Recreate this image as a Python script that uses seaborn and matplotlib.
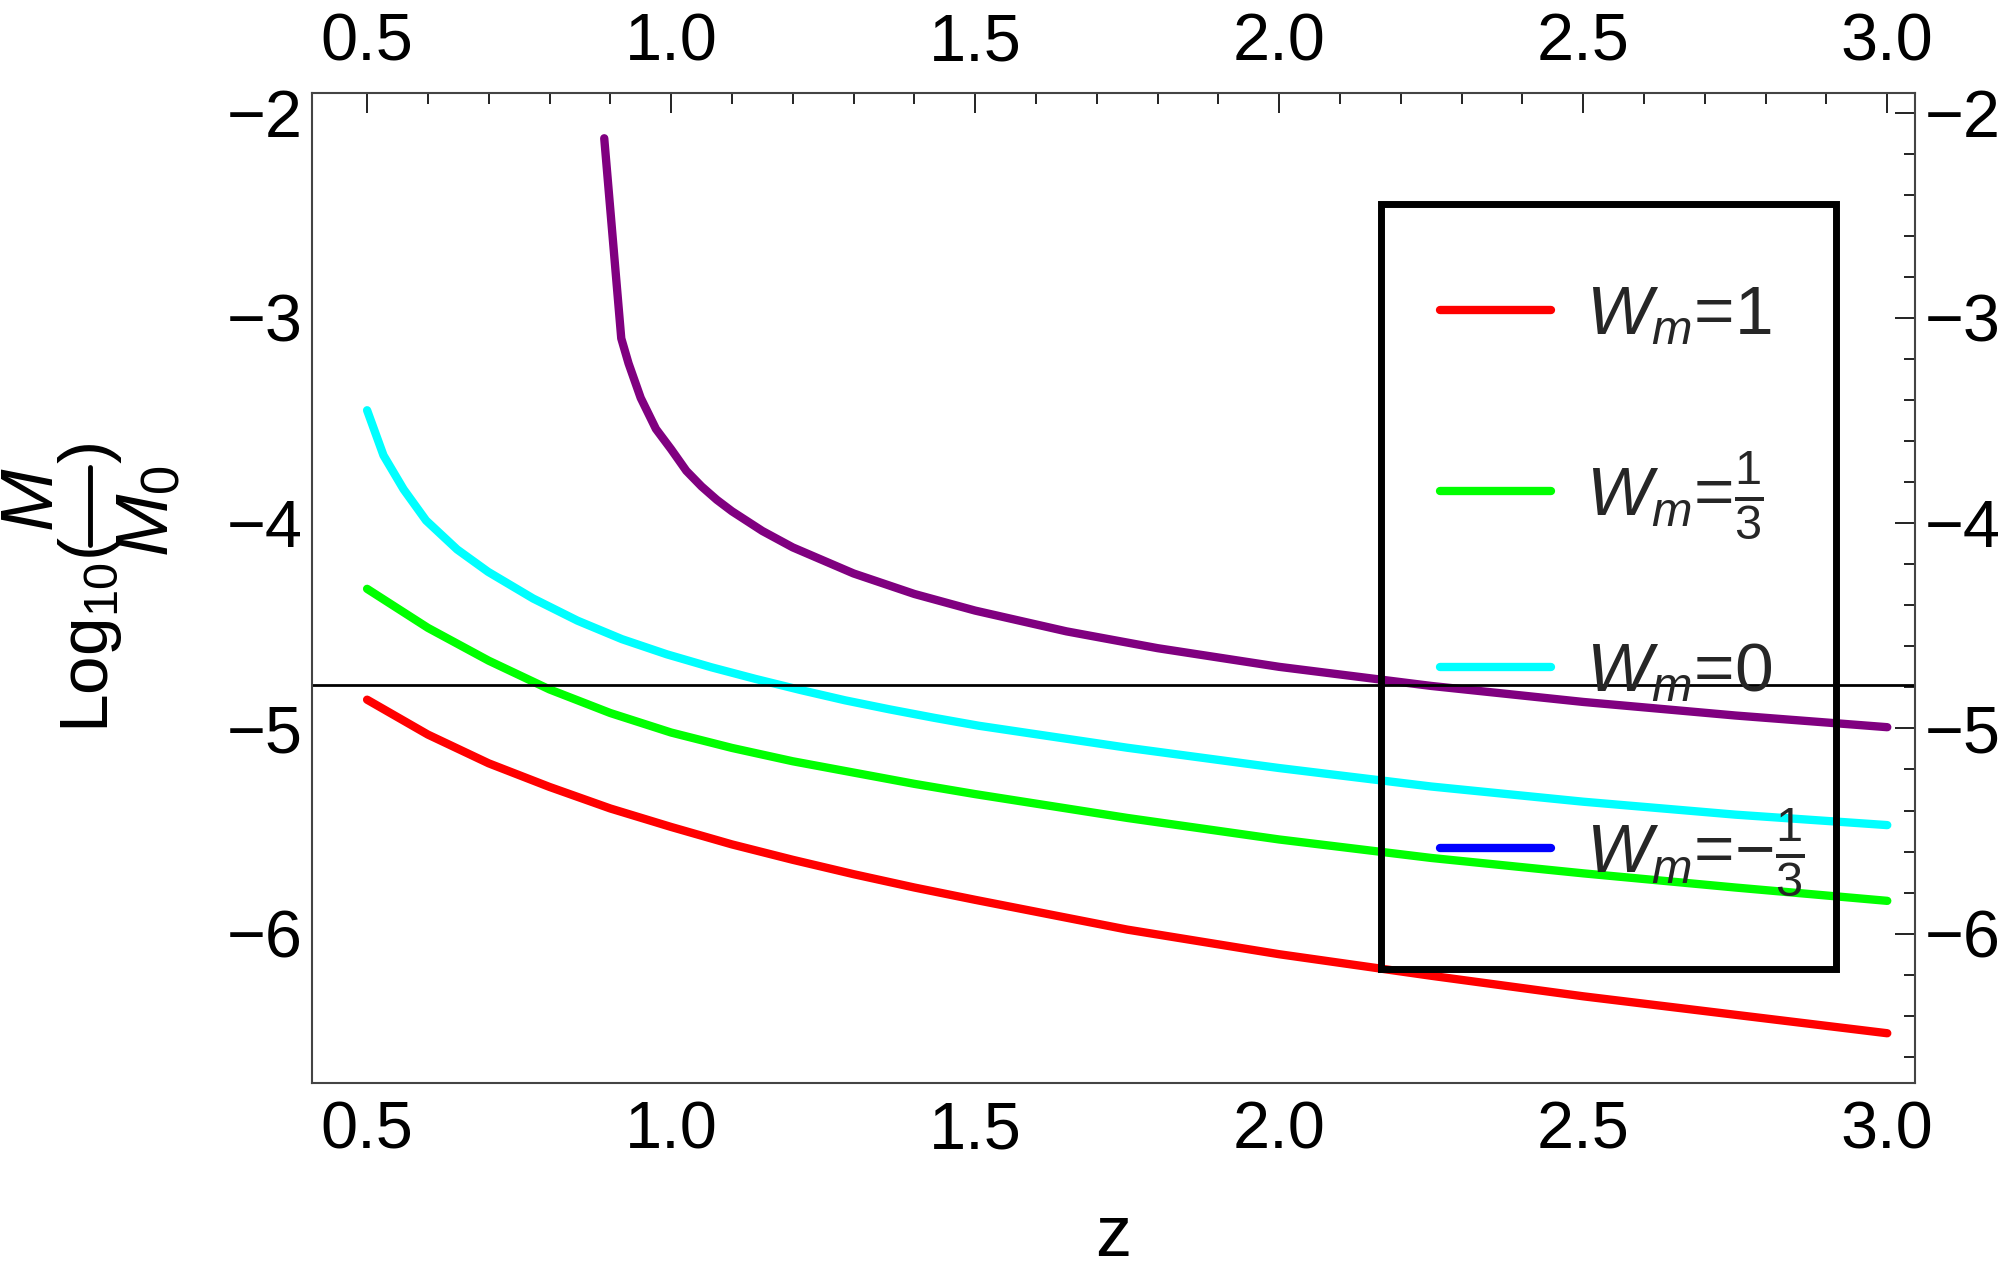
import matplotlib
matplotlib.use('Agg')
import matplotlib.pyplot as plt
from matplotlib.lines import Line2D
from matplotlib.patches import Rectangle
from matplotlib.ticker import MultipleLocator
import seaborn as sns
import pandas as pd

# curve readings: z and Log10(M/M0)
z_red = [0.5, 0.6, 0.7, 0.8, 0.9, 1.0, 1.1, 1.2, 1.3, 1.4, 1.5, 1.75, 2.0, 2.25, 2.5, 2.75, 3.0]
v_red = [-4.86, -5.03, -5.17, -5.285, -5.39, -5.48, -5.565, -5.64, -5.71, -5.775, -5.835,
         -5.98, -6.10, -6.205, -6.305, -6.395, -6.485]

z_green = [0.5, 0.6, 0.7, 0.8, 0.9, 1.0, 1.1, 1.2, 1.3, 1.4, 1.5, 1.75, 2.0, 2.25, 2.5, 2.75, 3.0]
v_green = [-4.32, -4.51, -4.67, -4.81, -4.925, -5.02, -5.095, -5.16, -5.215, -5.27, -5.32,
           -5.436, -5.541, -5.631, -5.706, -5.775, -5.84]

z_cyan = [0.5, 0.527, 0.56, 0.597, 0.648, 0.699, 0.773, 0.846, 0.919, 0.993, 1.066, 1.139,
          1.213, 1.286, 1.359, 1.432, 1.506, 1.75, 2.0, 2.25, 2.5, 2.75, 3.0]
v_cyan = [-3.45, -3.67, -3.835, -3.987, -4.128, -4.237, -4.367, -4.475, -4.565, -4.639,
          -4.702, -4.759, -4.813, -4.863, -4.907, -4.948, -4.987, -5.094, -5.193, -5.283,
          -5.357, -5.42, -5.471]

z_purple = [0.89, 0.918, 0.93, 0.95, 0.975, 1.0, 1.025, 1.05, 1.075, 1.1, 1.15, 1.2, 1.3,
            1.4, 1.5, 1.65, 1.8, 2.0, 2.25, 2.5, 2.75, 3.0]
v_purple = [-2.125, -3.10, -3.222, -3.39, -3.541, -3.64, -3.745, -3.821, -3.886, -3.942,
            -4.038, -4.118, -4.245, -4.345, -4.426, -4.527, -4.609, -4.70, -4.793, -4.871,
            -4.937, -4.994]

ref_level = -4.79

legend_labels = [r'$W_m$=1', r'$W_m$=$\frac{1}{3}$', r'$W_m$=0', r'$W_m$=$-\frac{1}{3}$']
legend_colors = ['#ff0000', '#00ff00', '#00ffff', '#0000ff']

x_ticks = [0.5, 1.0, 1.5, 2.0, 2.5, 3.0]
y_ticks = [-2, -3, -4, -5, -6]

fam = 'Liberation Sans'
sns.set_theme(style='white')
plt.rcParams['font.family'] = [fam, 'DejaVu Sans']
plt.rcParams['mathtext.fontset'] = 'custom'
plt.rcParams['mathtext.rm'] = fam
plt.rcParams['mathtext.it'] = fam + ':italic'
plt.rcParams['mathtext.sf'] = fam
plt.rcParams['axes.unicode_minus'] = True

df = pd.concat([
    pd.DataFrame({'z': z_red, 'v': v_red, 'series': 'red'}),
    pd.DataFrame({'z': z_green, 'v': v_green, 'series': 'green'}),
    pd.DataFrame({'z': z_cyan, 'v': v_cyan, 'series': 'cyan'}),
    pd.DataFrame({'z': z_purple, 'v': v_purple, 'series': 'purple'}),
])
palette = {'red': '#ff0000', 'green': '#00ff00', 'cyan': '#00ffff', 'purple': '#800080'}

fig = plt.figure(figsize=(20, 12.78), dpi=100)
ax = fig.add_axes([0.156, 0.1528, 0.8015, 0.7745])

sns.lineplot(data=df, x='z', y='v', hue='series', palette=palette, linewidth=6,
             estimator=None, legend=False, ax=ax)
ax.axhline(ref_level, color='black', lw=2)

ax.set_xlim(0.4094, 3.0456)
ax.set_ylim(-6.726, -1.904)
ax.set_xticks(x_ticks)
ax.set_xticklabels([f'{t:.1f}' for t in x_ticks])
ax.set_yticks(y_ticks)
ax.xaxis.set_minor_locator(MultipleLocator(0.1))
ax.yaxis.set_minor_locator(MultipleLocator(0.2))

ax.tick_params(which='both', direction='in', top=True, right=True,
               labeltop=True, labelright=True, color='#222222', width=1.4,
               labelcolor='black')
ax.tick_params(which='major', length=14.5, labelsize=48)
ax.tick_params(which='minor', length=8)
ax.tick_params(axis='x', which='major', pad=13)
ax.tick_params(axis='y', which='major', pad=7)
for s in ax.spines.values():
    s.set_color('#444444')
    s.set_linewidth(1.5)

ax.set_xlabel('z', fontsize=52, labelpad=30, color='black')

# y label: Log10( M / M0 ), the fraction built from full-size pieces in the gap
ax.set_ylabel(r'$\mathrm{Log}_{10}(\quad\;)$', fontsize=50, color='black')
ax.yaxis.set_label_coords(-0.117, 0.5)
ax.text(-0.1735, 0.5887, r'$M$', fontsize=54, rotation=90, ha='center', va='center',
        transform=ax.transAxes, color='black')
ax.text(-0.102, 0.5776, r'$M_0$', fontsize=54, rotation=90, ha='center', va='center',
        transform=ax.transAxes, color='black')
ax.add_line(Line2D([-0.1385, -0.1385], [0.5432, 0.622], transform=ax.transAxes,
                   color='black', lw=3.5, clip_on=False))

handles = [Line2D([], [], color=c, lw=6) for c in legend_colors]
ax.legend(handles, legend_labels, loc='center left', bbox_to_anchor=(0.7037, 0.4966),
          frameon=False, fontsize=50, handlelength=1.6, handletextpad=0.5,
          labelspacing=1.45, borderpad=0, borderaxespad=0)
ax.add_patch(Rectangle((0.667, 0.115), 0.284, 0.773, transform=ax.transAxes,
                       fill=False, ec='black', lw=5, zorder=5))

fig.savefig('out.png', dpi=100)
